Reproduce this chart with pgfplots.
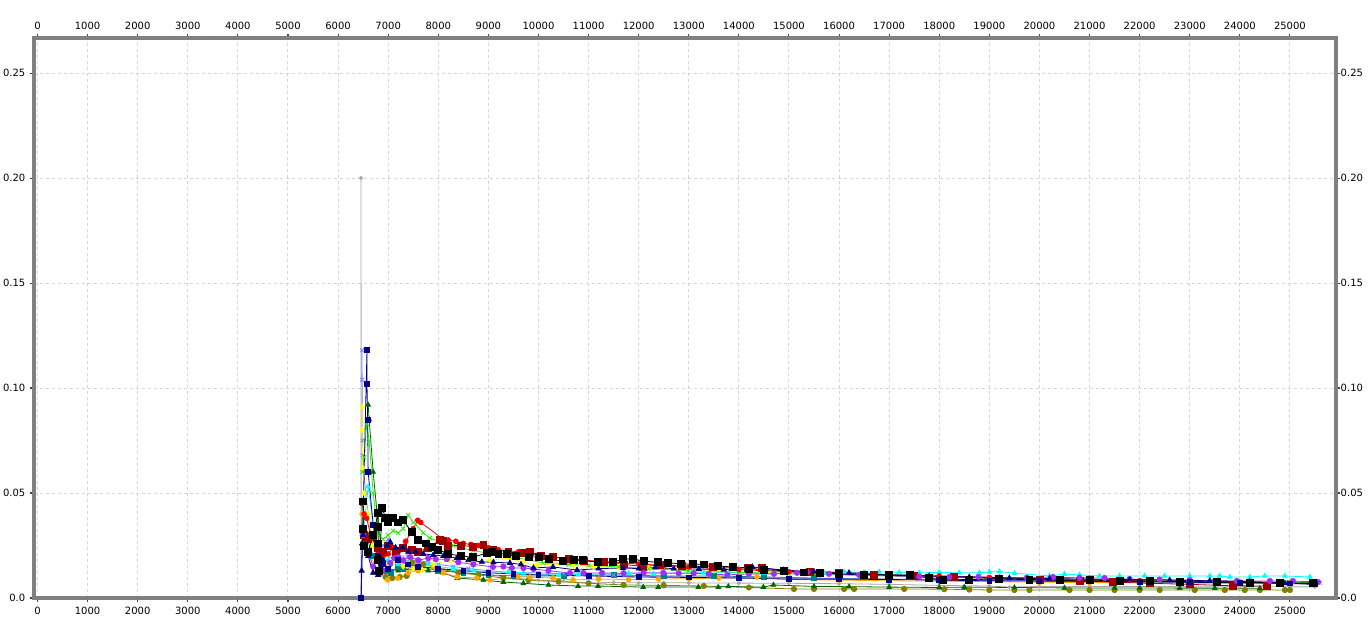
\documentclass[border=0pt]{standalone}
\usepackage{fontspec}
\setmainfont{DejaVu Sans}
\usepackage{pgfplots}
\pgfplotsset{compat=1.18}

\definecolor{cSilver}{HTML}{A8A8A8}
\definecolor{cNavy}{HTML}{00008B}
\definecolor{cLav}{HTML}{8080FF}
\definecolor{cDGreen}{HTML}{006400}
\definecolor{cOlive}{HTML}{808000}
\definecolor{cOrange}{HTML}{FFA500}
\definecolor{cTeal}{HTML}{008080}
\definecolor{cCyan}{HTML}{00FFFF}
\definecolor{cLime}{HTML}{22EE00}
\definecolor{cRed}{HTML}{FF0000}
\definecolor{cMaroon}{HTML}{A00000}
\definecolor{cYellow}{HTML}{FFFF00}
\definecolor{cNavyT}{HTML}{000080}
\definecolor{cPurple}{HTML}{A030F0}
\definecolor{cFrame}{HTML}{808080}

\pgfplotsset{
  frameaxis/.style={
    scale only axis,
    width=976.5pt, height=420pt,
    xmin=-70, xmax=25920, ymin=0, ymax=0.2667,
    xtick={0,1000,...,25000},
    ytick={0,0.05,0.10,0.15,0.20,0.25},
    yticklabels={0.0,0.05,0.10,0.15,0.20,0.25},
    scaled x ticks=false,
    /pgf/number format/1000 sep={},
    /pgf/number format/assume math mode=true,
    tick label style={font=\fontsize{7.5}{9}\selectfont, text=black},
  },
}

\begin{document}
\begin{tikzpicture}
\begin{axis}[
  frameaxis,
  xticklabel pos=lower, yticklabel pos=left,
  minor x tick num=4, minor y tick num=4,
  tick align=outside,
  major tick length=3pt, minor tick length=1.6pt,
  tick style={draw=black!75, line width=0.8pt},
  axis line style={draw=cFrame, line width=3pt},
  grid=major,
  major grid style={draw=black!17, line width=0.75pt, dash pattern=on 2.25pt off 2.25pt},
  every axis plot/.append style={line width=0.6pt},
]
% silver spike
\addplot[color=cSilver, mark=*, mark size=1.2pt, mark options={solid}] coordinates {
(6457,0.0)(6457,0.2)(6465,0.03)(6600,0.022)(6700,0.025)(6900,0.02)(7100,0.019)(7300,0.018)(7600,0.017)(8000,0.014)(8500,0.012)(9000,0.011)(9500,0.0095)(10000,0.0085)(10500,0.008)(11000,0.0072)(11500,0.0074)(12000,0.0072)(12500,0.0073)(13000,0.0072)(14000,0.0071)(15000,0.007)(16000,0.0068)(17000,0.0065)(18000,0.006)(19000,0.0057)(19400,0.0052)(20000,0.0055)(21000,0.0055)(22000,0.0055)(23000,0.0054)(24000,0.0054)(25000,0.0053)(25500,0.0053)
};
% olive
\addplot[color=cOlive, mark=*, mark size=2pt, mark options={solid}] coordinates {
(6950,0.01)(7080,0.0095)(7230,0.01)(7370,0.0105)(7420,0.016)(7480,0.017)(7700,0.016)(8000,0.014)(8400,0.012)(8800,0.011)(9300,0.0095)(9800,0.0085)(10400,0.0078)(11000,0.007)(11700,0.0062)(12500,0.006)(13300,0.0057)(14200,0.005)(15100,0.0043)(15500,0.0043)(16100,0.0043)(16300,0.0043)(17300,0.0043)(18100,0.0042)(18600,0.004)(19000,0.0038)(19500,0.0038)(19800,0.0038)(20600,0.0038)(21000,0.0038)(21500,0.0038)(22000,0.0038)(22400,0.0038)(23100,0.0038)(23700,0.0038)(24100,0.0038)(24400,0.0038)(24900,0.0038)(25000,0.0038)
};
% dark green
\addplot[color=cDGreen, mark=triangle*, mark size=2pt, mark options={solid}] coordinates {
(6600,0.092)(6620,0.085)(6700,0.06)(6800,0.035)(6900,0.018)(7000,0.014)(7200,0.013)(7500,0.014)(7800,0.013)(8100,0.012)(8380,0.0095)(8900,0.0086)(9300,0.0076)(9700,0.007)(10200,0.0062)(10790,0.0057)(11190,0.0057)(12090,0.0052)(12390,0.0052)(13190,0.0052)(13590,0.0052)(13790,0.0055)(14490,0.0052)(14690,0.0062)(15500,0.0055)(16200,0.0054)(17000,0.0052)(18000,0.005)(18500,0.0052)(19500,0.005)(20500,0.0048)(21500,0.0048)(22000,0.0048)(22800,0.0047)(23500,0.0047)(24400,0.0046)
};
% orange
\addplot[color=cOrange, mark=*, mark size=1.8pt, mark options={solid}] coordinates {
(6480,0.04)(6550,0.025)(6800,0.012)(6990,0.0086)(7190,0.0095)(7400,0.012)(7600,0.013)(7900,0.015)(8100,0.012)(8380,0.01)(8770,0.0095)(9030,0.0086)(9590,0.01)(9830,0.01)(10290,0.0095)(10690,0.0086)(11200,0.009)(11800,0.0088)(12400,0.009)(13000,0.0092)(13600,0.0095)(14360,0.01)(15000,0.0088)(16000,0.0085)(17000,0.0082)(18000,0.008)(19000,0.0078)(20000,0.0075)(21000,0.0074)(22000,0.0072)(23000,0.0071)(24000,0.007)(25000,0.007)
};
% teal
\addplot[color=cTeal, mark=square*, mark size=1.8pt, mark options={solid}] coordinates {
(6550,0.03)(6700,0.02)(6950,0.013)(7050,0.012)(7200,0.015)(7300,0.014)(7600,0.015)(8000,0.013)(8500,0.012)(9000,0.011)(9500,0.0105)(10500,0.0105)(11500,0.011)(12500,0.0105)(13500,0.0105)(14500,0.01)(15500,0.0095)(17000,0.009)(19000,0.0085)(21000,0.008)(23000,0.0075)(25000,0.0072)
};
% lavender
\addplot[color=cLav, mark=x, mark size=2pt, mark options={solid}] coordinates {
(6477,0.118)(6480,0.104)(6485,0.075)(6490,0.068)(6550,0.05)(6650,0.03)(6800,0.022)(6900,0.025)(7000,0.028)(7100,0.024)(7200,0.02)(7400,0.02)(7600,0.018)(7800,0.017)(8000,0.016)(8300,0.015)(8600,0.014)(9000,0.013)(9500,0.012)(10000,0.012)(10500,0.0115)(11000,0.011)(11500,0.011)(12000,0.0105)(13000,0.01)(14000,0.0098)(15000,0.0095)(16000,0.0092)(17000,0.009)(18000,0.0088)(19000,0.0085)(20000,0.0082)(21000,0.008)(22000,0.0078)(23000,0.0076)(24000,0.0075)(25000,0.0073)(25600,0.0072)
};
% cyan
\addplot[color=cCyan, mark=triangle*, mark size=2pt, mark options={solid}] coordinates {
(6500,0.03)(6600,0.053)(6700,0.035)(6850,0.02)(7000,0.018)(7200,0.016)(7400,0.017)(7600,0.018)(7800,0.016)(8000,0.015)(8300,0.014)(8700,0.013)(9000,0.0125)(9400,0.0124)(9700,0.012)(10000,0.011)(10400,0.011)(10800,0.0112)(11300,0.0115)(11800,0.0118)(12300,0.0115)(12800,0.0118)(13300,0.012)(13800,0.012)(14500,0.012)(14900,0.012)(15300,0.0118)(15700,0.012)(16100,0.0124)(16500,0.0122)(16800,0.0124)(17200,0.0122)(17600,0.012)(18000,0.0122)(18400,0.012)(18800,0.012)(19000,0.0124)(19200,0.0126)(19500,0.0118)(20200,0.0105)(20500,0.0114)(20800,0.011)(21200,0.0105)(21600,0.0105)(22100,0.0105)(22500,0.0105)(23000,0.0105)(23400,0.0105)(23600,0.0105)(23800,0.01)(24200,0.01)(24500,0.0105)(24900,0.0105)(25400,0.01)
};
% yellow
\addplot[color=cYellow, mark=diamond*, mark size=2pt, mark options={solid}] coordinates {
(6480,0.091)(6480,0.08)(6490,0.062)(6520,0.05)(6600,0.04)(6700,0.025)(6850,0.018)(7000,0.016)(7100,0.017)(7300,0.015)(7500,0.014)(7680,0.0133)(7900,0.016)(8230,0.018)(8600,0.0185)(9030,0.018)(9430,0.019)(9700,0.017)(9970,0.0157)(10300,0.016)(10700,0.0155)(11100,0.015)(11600,0.0148)(12200,0.0142)(12800,0.014)(13500,0.0132)(14200,0.0125)(15000,0.0118)(16000,0.011)(17000,0.0105)(18000,0.0098)(19000,0.0095)(20000,0.009)(21000,0.0088)(22000,0.0085)(23000,0.0082)(24000,0.008)(25000,0.0078)(25500,0.0077)
};
% lime
\addplot[color=cLime, mark=x, mark size=2.2pt, mark options={solid}] coordinates {
(6480,0.06)(6520,0.067)(6570,0.083)(6620,0.075)(6700,0.05)(6800,0.03)(6900,0.028)(7000,0.03)(7100,0.032)(7200,0.031)(7300,0.033)(7400,0.0395)(7500,0.036)(7550,0.035)(7700,0.031)(7830,0.0286)(8000,0.027)(8300,0.025)(8700,0.0225)(9100,0.021)(9500,0.0195)(10100,0.0167)(10600,0.016)(11000,0.0157)(11600,0.0148)(12200,0.014)(13000,0.013)(14000,0.0122)(15000,0.0115)(16000,0.011)(17000,0.0105)(18000,0.01)(19000,0.0095)(20000,0.009)(21000,0.0085)(22000,0.0082)(23000,0.008)(24000,0.0078)(25000,0.0075)(25500,0.0074)
};
% red
\addplot[color=cRed, mark=*, mark size=1.8pt, mark options={solid}] coordinates {
(6480,0.045)(6520,0.04)(6570,0.038)(6650,0.03)(6800,0.022)(6900,0.02)(7000,0.021)(7100,0.024)(7200,0.022)(7350,0.027)(7500,0.033)(7590,0.037)(7650,0.036)(8100,0.028)(8200,0.0276)(8350,0.027)(8500,0.026)(8650,0.0255)(8800,0.025)(9000,0.024)(9200,0.023)(9400,0.0225)(9600,0.022)(9800,0.021)(10000,0.0205)(10300,0.0195)(10600,0.019)(10900,0.018)(11200,0.0175)(11500,0.017)(12000,0.0162)(12500,0.0155)(13000,0.0148)(13500,0.014)(14000,0.0135)(14500,0.013)(15000,0.0125)(16000,0.0115)(17000,0.011)(18000,0.0105)(19000,0.0098)(20000,0.0092)(21000,0.0088)(22000,0.0082)(23000,0.0078)(24000,0.0075)(25000,0.007)(25500,0.0068)
};
% maroon
\addplot[color=cMaroon, mark=square*, mark size=2.6pt, mark options={solid}] coordinates {
(6520,0.03)(6600,0.028)(6700,0.029)(6800,0.024)(6900,0.022)(7000,0.025)(7150,0.022)(7300,0.024)(7480,0.023)(7600,0.022)(7800,0.024)(8030,0.0276)(8100,0.027)(8200,0.025)(8450,0.025)(8700,0.0245)(8900,0.0252)(9100,0.023)(9400,0.022)(9690,0.0214)(9830,0.022)(10050,0.02)(10290,0.0195)(10600,0.0185)(10900,0.0178)(11300,0.017)(11700,0.016)(12090,0.015)(12430,0.0157)(12870,0.0152)(13490,0.0148)(14180,0.0145)(14460,0.0143)(14900,0.013)(15420,0.0124)(16000,0.012)(16700,0.011)(17500,0.0105)(18300,0.01)(19200,0.0092)(20000,0.0088)(20800,0.008)(21470,0.0076)(22200,0.007)(23000,0.0065)(23860,0.0058)(24540,0.0057)
};
% purple
\addplot[color=cPurple, mark=*, mark size=2pt, mark options={solid}] coordinates {
(6480,0.033)(6500,0.03)(6600,0.022)(6700,0.015)(6840,0.012)(6900,0.013)(7040,0.0167)(7120,0.019)(7200,0.0195)(7300,0.018)(7440,0.0195)(7600,0.018)(7800,0.019)(7950,0.0185)(8170,0.0185)(8400,0.017)(8700,0.016)(9090,0.0148)(9300,0.015)(9470,0.0143)(9700,0.0143)(9900,0.0138)(10200,0.013)(10630,0.0119)(10900,0.0119)(11270,0.0119)(11700,0.0118)(12100,0.012)(12490,0.012)(12800,0.0118)(13100,0.0118)(13400,0.0115)(13770,0.011)(14200,0.0115)(14700,0.0115)(15160,0.012)(15360,0.0124)(15800,0.0115)(16400,0.011)(17000,0.0105)(17600,0.0102)(18200,0.01)(18780,0.01)(19200,0.0098)(19750,0.0097)(20270,0.01)(20800,0.0096)(21300,0.0095)(21800,0.009)(22400,0.0088)(23000,0.0085)(23500,0.0082)(23940,0.0081)(24600,0.0081)(25060,0.0081)(25560,0.0076)
};
% navy triangles
\addplot[color=cNavyT, mark=triangle*, mark size=2.2pt, mark options={solid}] coordinates {
(6460,0.0)(6470,0.013)(6480,0.026)(6500,0.03)(6600,0.02)(6700,0.012)(6800,0.011)(6900,0.018)(6980,0.025)(7040,0.0267)(7150,0.024)(7290,0.024)(7400,0.022)(7550,0.022)(7700,0.021)(7900,0.0205)(8100,0.02)(8370,0.019)(8600,0.018)(8870,0.0172)(9100,0.017)(9430,0.0167)(9650,0.016)(9900,0.0143)(10290,0.0148)(10770,0.0133)(11200,0.014)(11690,0.0143)(12000,0.014)(12330,0.0145)(12700,0.014)(13200,0.0138)(13700,0.0135)(14270,0.0148)(14890,0.0133)(15500,0.0125)(16200,0.012)(17000,0.011)(17800,0.0105)(18600,0.01)(19400,0.0095)(20200,0.0092)(21000,0.009)(21800,0.0088)(22600,0.0085)(23400,0.0082)(24200,0.0078)(24900,0.007)(25460,0.0065)
};
% navy squares
\addplot[color=cNavy, mark=square*, mark size=1.8pt, mark options={solid}] coordinates {
(6460,0.0)(6577,0.118)(6577,0.102)(6590,0.085)(6600,0.06)(6700,0.035)(6800,0.02)(6900,0.016)(7000,0.014)(7200,0.018)(7400,0.016)(7600,0.015)(8000,0.014)(8500,0.013)(9000,0.012)(9500,0.0115)(10000,0.011)(11000,0.0105)(12000,0.01)(13000,0.0098)(14000,0.0095)(15000,0.009)(16000,0.009)(17000,0.0088)(18000,0.0085)(19000,0.0082)(20000,0.008)(21000,0.008)(22000,0.0078)(23000,0.0075)(24000,0.0072)(25000,0.007)(25500,0.0068)
};
% black
\addplot[color=black, mark=square*, mark size=2.6pt, mark options={solid}] coordinates {
(6500,0.046)(6500,0.033)(6520,0.025)(6600,0.022)(6700,0.03)(6800,0.0405)(6800,0.034)(6800,0.026)(6800,0.018)(6820,0.013)(6880,0.043)(6950,0.038)(7000,0.036)(7100,0.038)(7200,0.036)(7300,0.037)(7470,0.0314)(7600,0.0276)(7750,0.026)(7870,0.0243)(8000,0.023)(8200,0.021)(8450,0.02)(8700,0.0195)(8970,0.0214)(9070,0.022)(9200,0.021)(9370,0.0212)(9550,0.02)(9800,0.0195)(10000,0.0195)(10200,0.0185)(10490,0.0176)(10700,0.018)(10890,0.018)(11190,0.017)(11490,0.017)(11690,0.0186)(11890,0.0186)(12100,0.0175)(12390,0.017)(12590,0.0168)(12850,0.0162)(13090,0.0162)(13300,0.016)(13580,0.0152)(13880,0.0148)(14200,0.014)(14500,0.0135)(14900,0.013)(15300,0.0122)(15620,0.0119)(16000,0.0115)(16500,0.0112)(17000,0.011)(17410,0.011)(17800,0.0095)(18080,0.0086)(18600,0.0088)(19200,0.009)(19800,0.0088)(20400,0.0085)(21000,0.0085)(21600,0.0082)(22200,0.008)(22800,0.0078)(23540,0.0076)(24200,0.0074)(24800,0.0072)(25460,0.0071)
};
\node[font=\fontsize{7.5}{9}\selectfont, anchor=center] at ([yshift=24pt]rel axis cs:0.5115,1) {SimphonyDHTNetwork.members[0]};
\coordinate (bl) at (rel axis cs:0,0);
\coordinate (tr) at (rel axis cs:1,1);
\end{axis}
\begin{axis}[
  frameaxis,
  xticklabel pos=upper, yticklabel pos=right,
  xticklabel style={yshift=2.5pt},
  axis line style={draw=none},
  tick style={draw=none},
]
\end{axis}
\pgfresetboundingbox
\path ([xshift=-25.5pt,yshift=-17.25pt]bl) rectangle ([xshift=26.25pt,yshift=28.5pt]tr);
\end{tikzpicture}
\end{document}
